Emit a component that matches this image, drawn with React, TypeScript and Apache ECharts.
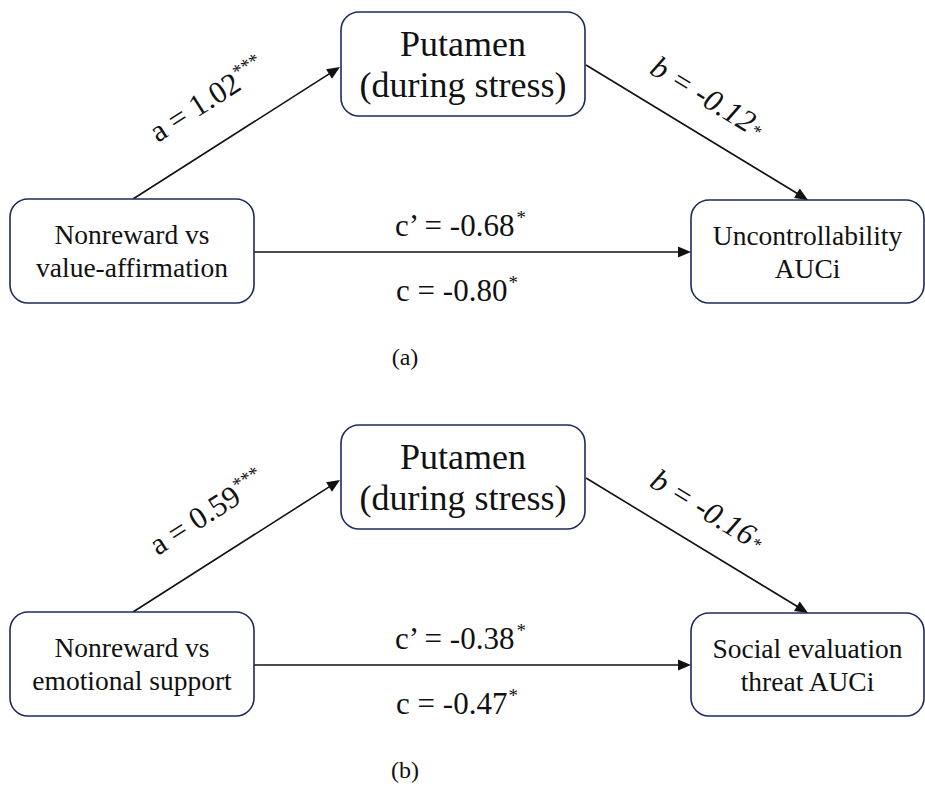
import React, { useEffect, useRef } from "react";
import * as echarts from "echarts";

// Mediation models: predictor -> putamen (during stress) -> stress outcome
const panelTags = ["(a)", "(b)"];
const predictors = ["Nonreward vs\nvalue-affirmation", "Nonreward vs\nemotional support"];
const mediators = ["Putamen\n(during stress)", "Putamen\n(during stress)"];
const outcomes = ["Uncontrollability\nAUCi", "Social evaluation\nthreat AUCi"];

// Path coefficients and significance marks
const aPath = [1.02, 0.59];
const aStars = ["***", "***"];
const bPath = [-0.12, -0.16];
const bStars = ["*", "*"];
const cPrimePath = [-0.68, -0.38];
const cPrimeStars = ["*", "*"];
const cPath = [-0.8, -0.47];
const cStars = ["*", "*"];

const FONT = "Liberation Serif";
const NAVY = "#1e2a5c";
const INK = "#111111";

// layout
const PANEL_DY = 413;
const PRED = { x: 10, y: 199, w: 244, h: 104 };
const MED = { x: 341, y: 12, w: 244, h: 104 };
const OUT = { x: 691, y: 200, w: 233, h: 103 };
const R = 18;

function box(b: { x: number; y: number; w: number; h: number }, dy: number) {
  return {
    type: "rect",
    shape: { x: b.x, y: b.y + dy, width: b.w, height: b.h, r: R },
    style: { fill: "#ffffff", stroke: NAVY, lineWidth: 1.6 },
    z: 2,
  };
}

function boxText(
  b: { x: number; y: number; w: number; h: number },
  dy: number,
  text: string,
  size: number,
  lh: number
) {
  return {
    type: "text",
    x: b.x + b.w / 2,
    y: b.y + dy + b.h / 2,
    z: 3,
    style: {
      text,
      fontFamily: FONT,
      fontSize: size,
      lineHeight: lh,
      fill: INK,
      align: "center",
      verticalAlign: "middle",
    },
  };
}

function arrow(x1: number, y1: number, x2: number, y2: number) {
  const len = Math.hypot(x2 - x1, y2 - y1);
  const ux = (x2 - x1) / len;
  const uy = (y2 - y1) / len;
  const hl = 13;
  const hw = 5.5;
  const bx = x2 - ux * hl;
  const by = y2 - uy * hl;
  return [
    {
      type: "line",
      shape: { x1, y1, x2: bx + ux * 2, y2: by + uy * 2 },
      style: { stroke: INK, lineWidth: 1.6 },
      z: 1,
    },
    {
      type: "polygon",
      shape: {
        points: [
          [x2, y2],
          [bx - uy * hw, by + ux * hw],
          [bx + uy * hw, by - ux * hw],
        ],
      },
      style: { fill: INK },
      z: 4,
    },
  ];
}

function coefLabel(
  x: number,
  y: number,
  name: string,
  value: number,
  stars: string,
  rotation: number,
  italic: boolean,
  superStars: boolean
) {
  const nameStyle = {
    fontFamily: FONT,
    fontSize: 31,
    fontStyle: italic ? "italic" : "normal",
    fill: INK,
    lineHeight: 34,
  };
  return {
    type: "text",
    x,
    y,
    rotation,
    z: 5,
    style: {
      text: `{m|${name} = ${value.toFixed(2)}}{s|${stars}}`,
      align: "center",
      verticalAlign: "middle",
      rich: {
        m: nameStyle,
        s: superStars
          ? { fontFamily: FONT, fontSize: 19, fill: INK, lineHeight: 34, verticalAlign: "top", padding: [0, 0, 0, 1] }
          : { fontFamily: FONT, fontSize: 18, fill: INK, lineHeight: 34, verticalAlign: "middle", padding: [8, 0, 0, 2] },
      },
    },
  };
}

function buildPanel(i: number) {
  const dy = i * PANEL_DY;
  const a0 = [PRED.x + PRED.w / 2 + 1, PRED.y + dy];
  const a1 = [MED.x - 1, MED.y + dy + 55];
  const b0 = [MED.x + MED.w + 1, MED.y + dy + 53];
  const b1 = [808, OUT.y + dy];
  const cy = PRED.y + dy + 53;
  const angA = Math.atan2(a0[1] - a1[1], a1[0] - a0[0]);
  const angB = -Math.atan2(b1[1] - b0[1], b1[0] - b0[0]);
  return [
    ...arrow(a0[0], a0[1], a1[0], a1[1]),
    ...arrow(b0[0], b0[1], b1[0], b1[1]),
    ...arrow(PRED.x + PRED.w, cy, OUT.x, cy),
    box(PRED, dy),
    box(MED, dy),
    box(OUT, dy),
    boxText(PRED, dy, predictors[i], 27.5, 33),
    boxText(MED, dy, mediators[i], 36, 41),
    boxText(OUT, dy, outcomes[i], 27.5, 33),
    coefLabel(207, 99 + dy, "a", aPath[i], aStars[i], angA, false, true),
    coefLabel(708, 97 + dy, "b", bPath[i], bStars[i], angB, true, false),
    coefLabel(460, 225 + dy, "c\u2019", cPrimePath[i], cPrimeStars[i], 0, false, true),
    coefLabel(457, 290 + dy, "c", cPath[i], cStars[i], 0, false, true),
    {
      type: "text",
      x: 405,
      y: 357 + dy,
      style: {
        text: panelTags[i],
        fontFamily: FONT,
        fontSize: 24,
        fill: INK,
        align: "center",
        verticalAlign: "middle",
      },
    },
  ];
}

export default function App() {
  const ref = useRef<HTMLDivElement>(null);
  useEffect(() => {
    if (!ref.current) return;
    const chart = echarts.init(ref.current, undefined, { renderer: "svg" });
    chart.setOption({
      animation: false,
      backgroundColor: "#ffffff",
      graphic: { elements: [...buildPanel(0), ...buildPanel(1)] },
    });
    return () => chart.dispose();
  }, []);
  return (
    <div
      ref={ref}
      style={{ position: "absolute", left: 0, top: 0, width: 925, height: 786, background: "#fff" }}
    />
  );
}
